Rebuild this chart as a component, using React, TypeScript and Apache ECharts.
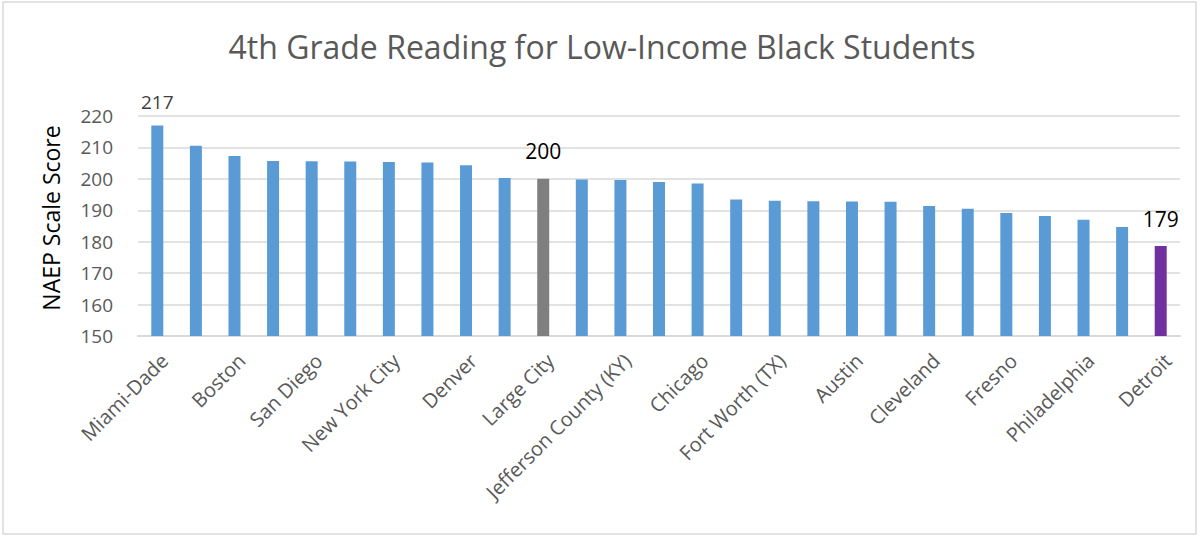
import React, { useEffect, useRef } from "react";
import * as echarts from "echarts";

const districts = [
  "Miami-Dade", "Hillsborough", "Boston", "Charlotte", "San Diego", "Duval",
  "New York City", "Houston", "Denver", "Atlanta", "Large City", "Dallas",
  "Jefferson County (KY)", "Shelby County", "Chicago", "Guilford",
  "Fort Worth (TX)", "District of Columbia", "Austin", "Clark County",
  "Cleveland", "Los Angeles", "Fresno", "Baltimore City", "Philadelphia",
  "Milwaukee", "Detroit",
];
const scores = [
  217, 210.5, 207.3, 205.7, 205.6, 205.5, 205.4, 205.2, 204.3, 200.3, 200,
  199.8, 199.6, 199.0, 198.5, 193.4, 193.0, 192.9, 192.8, 192.7, 191.4,
  190.5, 189.1, 188.2, 187.0, 184.7, 178.6,
];
const yTicks = { min: 150, max: 220, interval: 10 };
const labelled: Record<string, string> = { "Miami-Dade": "217", "Large City": "200", Detroit: "179" };

const FONT = "'Open Sans', sans-serif";

export default function App() {
  const ref = useRef<HTMLDivElement>(null);
  useEffect(() => {
    if (!ref.current) return;
    const chart = echarts.init(ref.current, undefined, { renderer: "svg" });
    const data = districts.map((d, i) => {
      const color = d === "Large City" ? "#7f7f7f" : d === "Detroit" ? "#7030a0" : "#5b9bd5";
      const item: any = { value: scores[i], itemStyle: { color } };
      if (labelled[d]) {
        item.label = {
          show: true,
          position: "top",
          distance: d === "Miami-Dade" ? 14 : 17,
          formatter: labelled[d],
          fontFamily: FONT,
          fontSize: d === "Miami-Dade" ? 19 : 21,
          color: d === "Miami-Dade" ? "#404040" : "#000000",
        };
      }
      return item;
    });
    chart.setOption({
      animation: false,
      textStyle: { fontFamily: FONT },
      title: {
        text: "4th Grade Reading for Low-Income Black Students",
        left: "center",
        top: 25,
        textStyle: { fontFamily: FONT, fontSize: 32, fontWeight: "normal", color: "#595959" },
      },
      graphic: [
        {
          type: "rect",
          shape: { x: 3, y: 2, width: 1193, height: 532 },
          style: { fill: "none", stroke: "#d9d9d9", lineWidth: 1.5 },
          silent: true,
        },
      ],
      grid: { left: 138, right: 24, top: 116, bottom: 201 },
      xAxis: {
        type: "category",
        data: districts,
        axisTick: { show: false },
        axisLine: { lineStyle: { color: "#d9d9d9", width: 2 } },
        axisLabel: {
          interval: 1,
          rotate: 45,
          margin: 14,
          verticalAlign: "top",
          fontSize: 20,
          color: "#595959",
          fontFamily: FONT,
        },
      },
      yAxis: {
        type: "value",
        min: yTicks.min,
        max: yTicks.max,
        interval: yTicks.interval,
        name: "NAEP Scale Score",
        nameLocation: "middle",
        nameGap: 76,
        nameTextStyle: { fontSize: 23, color: "#000000", fontFamily: FONT, padding: [0, 0, 0, 16] },
        axisLine: { show: false },
        axisTick: { show: false },
        axisLabel: { fontSize: 19, color: "#595959", margin: 25, fontFamily: FONT },
        splitLine: { lineStyle: { color: "#d9d9d9", width: 1.5 } },
      },
      series: [
        {
          type: "bar",
          data,
          barWidth: 12,
        },
      ],
    });
    return () => chart.dispose();
  }, []);
  return (
    <div
      ref={ref}
      style={{ position: "absolute", left: 0, top: 0, width: 1204, height: 537, background: "#ffffff" }}
    />
  );
}
